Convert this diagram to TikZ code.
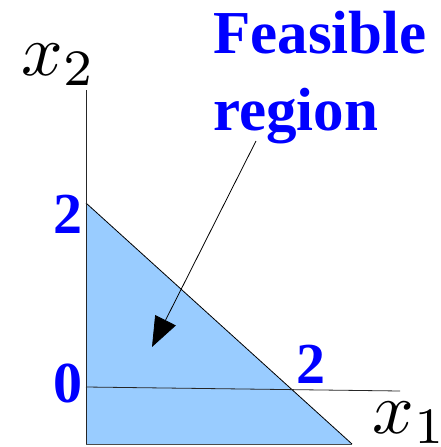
\documentclass[tikz,border=0pt]{standalone}
\usepackage{fontspec}
\newfontfamily\lblfont{Liberation Serif}
\usetikzlibrary{arrows.meta}
\definecolor{fillblue}{RGB}{153,204,255}
\definecolor{lblblue}{RGB}{0,0,255}
\begin{document}
\begin{tikzpicture}[x=1pt,y=-1pt,
  axis/.style={line width=0.8pt, draw=black!85},
  edge/.style={line width=0.8pt, draw=black},
  bigtxt/.style={inner sep=0pt, text=lblblue, font=\lblfont\bfseries\fontsize{61}{61}\selectfont},
  numtxt/.style={inner sep=0pt, text=lblblue, font=\lblfont\bfseries\fontsize{58}{58}\selectfont},
  axlabel/.style={inner sep=0pt, scale=7.3},
  pointer/.style={line width=0.8pt, -{Triangle[length=30pt,width=23pt]}}]
\useasboundingbox[fill=white] (0,0) rectangle (441,447);
% corners
\coordinate (top) at (86,203);
\coordinate (bl) at (86,444);
\coordinate (br) at (352,444);
\coordinate (yend) at (86,90);
\coordinate (xstart) at (86,387);
\coordinate (xend) at (400,391);
% feasible region
\fill[fillblue] (top) -- (bl) -- (br) -- cycle;
\draw[edge] (top) -- (br);
\draw[edge, black!70] (bl) -- (br);
% axes
\draw[axis] (yend) -- (bl);
\draw[axis] (xstart) -- (xend);
% axis labels
\node[axlabel, anchor=base west] (xtwo) at (20,75) {$x_2$};
\node[axlabel, anchor=base west] (xone) at (371,433) {$x_1$};
% tick labels
\node[numtxt, anchor=base east] (ytick) at (83,233) {2};
\node[numtxt, anchor=base east] (zero) at (83,402) {0};
\node[numtxt, anchor=base west] (xtick) at (296,383) {2};
% title
\node[bigtxt, anchor=base west] (feas) at (213,53) {Feasible};
\node[bigtxt, anchor=base west] (reg) at (213,130) {region};
% pointer
\coordinate (pstart) at (256,141);
\coordinate (ptip) at (152,347);
\draw[pointer] (pstart) -- (ptip);
\end{tikzpicture}
\end{document}
